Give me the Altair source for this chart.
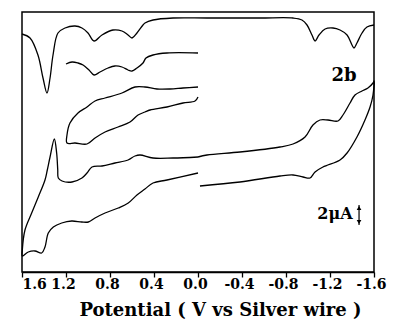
import altair as alt
import pandas as pd

# Potential (V) and current (uA, arbitrary offset) for each trace
dpv_full_v = [1.600, 1.527, 1.455, 1.409, 1.373, 1.345, 1.318, 1.273, 1.209, 1.118, 1.055, 1.000,
              0.945, 0.873, 0.773, 0.691, 0.636, 0.600, 0.555, 0.500, 0.482, 0.409, 0.227, -0.082,
              -0.564, -0.864, -0.945, -0.991, -1.036, -1.064, -1.100, -1.155, -1.227, -1.291,
              -1.355, -1.400, -1.418, -1.445, -1.491, -1.536, -1.600]
dpv_full_i = [23.8, 23.4, 21.7, 19.4, 17.9, 19.4, 21.7, 23.9, 24.4, 24.6, 24.4, 23.9,
              23.1, 23.7, 24.2, 24.1, 23.7, 23.4, 23.9, 24.7, 24.9, 25.2, 25.4, 25.4,
              25.4, 25.4, 25.2, 24.7, 23.7, 23.1, 23.7, 24.3, 24.4, 24.2,
              23.7, 22.7, 22.4, 22.9, 23.9, 24.5, 24.7]

dpv_part_v = [1.200, 1.145, 1.091, 1.045, 0.991, 0.945, 0.891, 0.818, 0.755, 0.691, 0.636,
              0.600, 0.555, 0.500, 0.473, 0.409, 0.282, 0.000]
dpv_part_i = [20.8, 21.0, 20.9, 20.7, 20.2, 19.7, 20.0, 20.4, 20.6, 20.5, 20.2,
              20.1, 20.4, 20.9, 21.4, 21.7, 21.9, 21.9]

cv_part_v = [0.000, 0.136, 0.255, 0.373, 0.482, 0.573, 0.691, 0.845, 0.936, 1.009, 1.091, 1.164,
             1.191, 1.191, 1.118, 1.009, 0.936, 0.845, 0.727, 0.618, 0.545, 0.482, 0.436, 0.282,
             0.136, 0.027, 0.000]
cv_part_i = [18.5, 18.4, 18.3, 18.3, 18.5, 18.5, 17.9, 17.4, 17.1, 16.5, 15.9, 14.9,
             13.7, 12.9, 12.9, 12.8, 13.4, 14.0, 14.5, 15.0, 15.7, 16.0, 16.2, 16.5,
             16.9, 17.1, 17.5]

cv_pos_v = [0.000, 0.227, 0.409, 0.527, 0.573, 0.636, 0.755, 0.873, 0.964, 1.009, 1.055, 1.145,
            1.236, 1.270, 1.275, 1.285, 1.306, 1.345, 1.370, 1.391, 1.452, 1.512, 1.573, 1.597,
            1.597, 1.543, 1.482, 1.421, 1.391, 1.361, 1.315, 1.239, 1.148, 1.057, 0.997, 0.936,
            0.845, 0.725, 0.634, 0.555, 0.482, 0.409, 0.282, 0.000]
cv_pos_i = [11.5, 11.4, 11.4, 11.7, 11.6, 11.2, 10.9, 10.6, 10.5, 9.9, 9.4, 9.0,
            9.1, 9.4, 10.2, 11.9, 13.3, 11.5, 10.2, 9.2, 7.5, 5.9, 4.2, 2.2,
            1.6, 2.0, 2.1, 1.9, 2.5, 3.9, 4.5, 4.9, 5.1, 5.0, 5.0, 5.4,
            5.9, 6.4, 6.9, 7.7, 8.3, 8.9, 9.2, 9.9]

cv_neg_v = [0.000, -0.082, -0.382, -0.745, -0.864, -0.973, -1.045, -1.109, -1.182, -1.273,
            -1.318, -1.382, -1.427, -1.491, -1.545, -1.591, -1.600,
            -1.591, -1.564, -1.518, -1.445, -1.355, -1.291, -1.136, -1.064, -1.018, -0.955,
            -0.864, -0.745, -0.382, -0.018]
cv_neg_i = [11.5, 11.7, 12.0, 12.5, 12.8, 13.5, 14.7, 15.2, 15.2, 15.1,
            15.7, 16.9, 17.7, 18.1, 18.4, 18.9, 19.1,
            17.7, 16.5, 15.2, 13.5, 11.9, 11.2, 10.5, 10.0, 9.4, 9.5,
            9.7, 9.6, 9.0, 8.6]

tick_values = [1.6, 1.4, 1.2, 1.0, 0.8, 0.6, 0.4, 0.2, 0.0, -0.2, -0.4, -0.6, -0.8,
               -1.0, -1.2, -1.4, -1.6]

label_text = ["2b", "2\u03bcA"]
label_v = [-1.327, -1.245]
label_i = [19.6, 5.8]
label_size = [18, 16]

bar_v = -1.464
bar_lo, bar_hi = 4.7, 6.7

rows = []
for name, vs, cs in [("dpv_full", dpv_full_v, dpv_full_i), ("dpv_part", dpv_part_v, dpv_part_i),
                     ("cv_part", cv_part_v, cv_part_i), ("cv_pos", cv_pos_v, cv_pos_i),
                     ("cv_neg", cv_neg_v, cv_neg_i)]:
    for k, (v, c) in enumerate(zip(vs, cs)):
        rows.append({"seg": name, "idx": k, "v": v, "i": c})
df = pd.DataFrame(rows)

FONT = "DejaVu Serif"
xscale = alt.Scale(domain=[1.6, -1.6], nice=False, zero=False)
yscale = alt.Scale(domain=[0, 26], nice=False, zero=False)

major = "round(datum.value*10) % 4 == 0"
xaxis = alt.Axis(
    values=tick_values,
    title="Potential ( V vs Silver wire )",
    labelExpr=f"{major} ? ((datum.value < 0 ? '-' : '') + format(abs(datum.value), '.1f')) : ''",
    tickSize={"condition": {"test": major, "value": 5}, "value": 3},
    tickColor="black", tickWidth=1.3,
    domainColor="black", domainWidth=1.5,
    labelFont=FONT, labelFontSize=14, labelFontWeight="bold", labelColor="black",
    labelAlign={"condition": {"test": "datum.value == 1.6", "value": "left"}, "value": "center"},
    labelOffset={"condition": {"test": "datum.value == 1.6", "value": 0}, "value": -3},
    labelPadding=0, labelOverlap=False, labelFlush=False,
    titleFont=FONT, titleFontSize=18, titleFontWeight="bold", titleColor="black",
    titleX=198, titleY=38, titleAlign="center", titleBaseline="middle",
    grid=False,
)

lines = alt.Chart(df).mark_line(color="black", strokeWidth=1.3, interpolate="catmull-rom").encode(
    x=alt.X("v:Q", scale=xscale, axis=xaxis),
    y=alt.Y("i:Q", scale=yscale, axis=None),
    detail="seg:N",
    order="idx:Q",
)

ann = pd.DataFrame({"t": label_text, "v": label_v, "i": label_i, "fs": label_size})
texts = alt.Chart(ann).mark_text(font=FONT, fontWeight="bold", color="black").encode(
    x=alt.X("v:Q", scale=xscale), y=alt.Y("i:Q", scale=yscale), text="t:N",
    size=alt.Size("fs:Q", scale=None, legend=None))

bar = pd.DataFrame({"v": [bar_v], "lo": [bar_lo], "hi": [bar_hi]})
rule = alt.Chart(bar).mark_rule(color="black", strokeWidth=1.2).encode(
    x=alt.X("v:Q", scale=xscale), y=alt.Y("lo:Q", scale=yscale), y2="hi:Q")
heads = pd.DataFrame({"v": [bar_v, bar_v], "i": [bar_hi - 0.3, bar_lo + 0.3],
                      "s": ["triangle-up", "triangle-down"]})
arrow = alt.Chart(heads).mark_point(filled=True, color="black", size=22, opacity=1).encode(
    x=alt.X("v:Q", scale=xscale), y=alt.Y("i:Q", scale=yscale),
    shape=alt.Shape("s:N", scale=None, legend=None))

chart = alt.layer(lines, texts, rule, arrow).properties(
    width=352, height=260,
    padding={"left": 22, "top": 12, "right": 20, "bottom": 61},
    autosize="none",
    background="white",
).configure_view(stroke="black", strokeWidth=1.5)

chart.save("out.html", embed_options={"renderer": "svg", "actions": False})
